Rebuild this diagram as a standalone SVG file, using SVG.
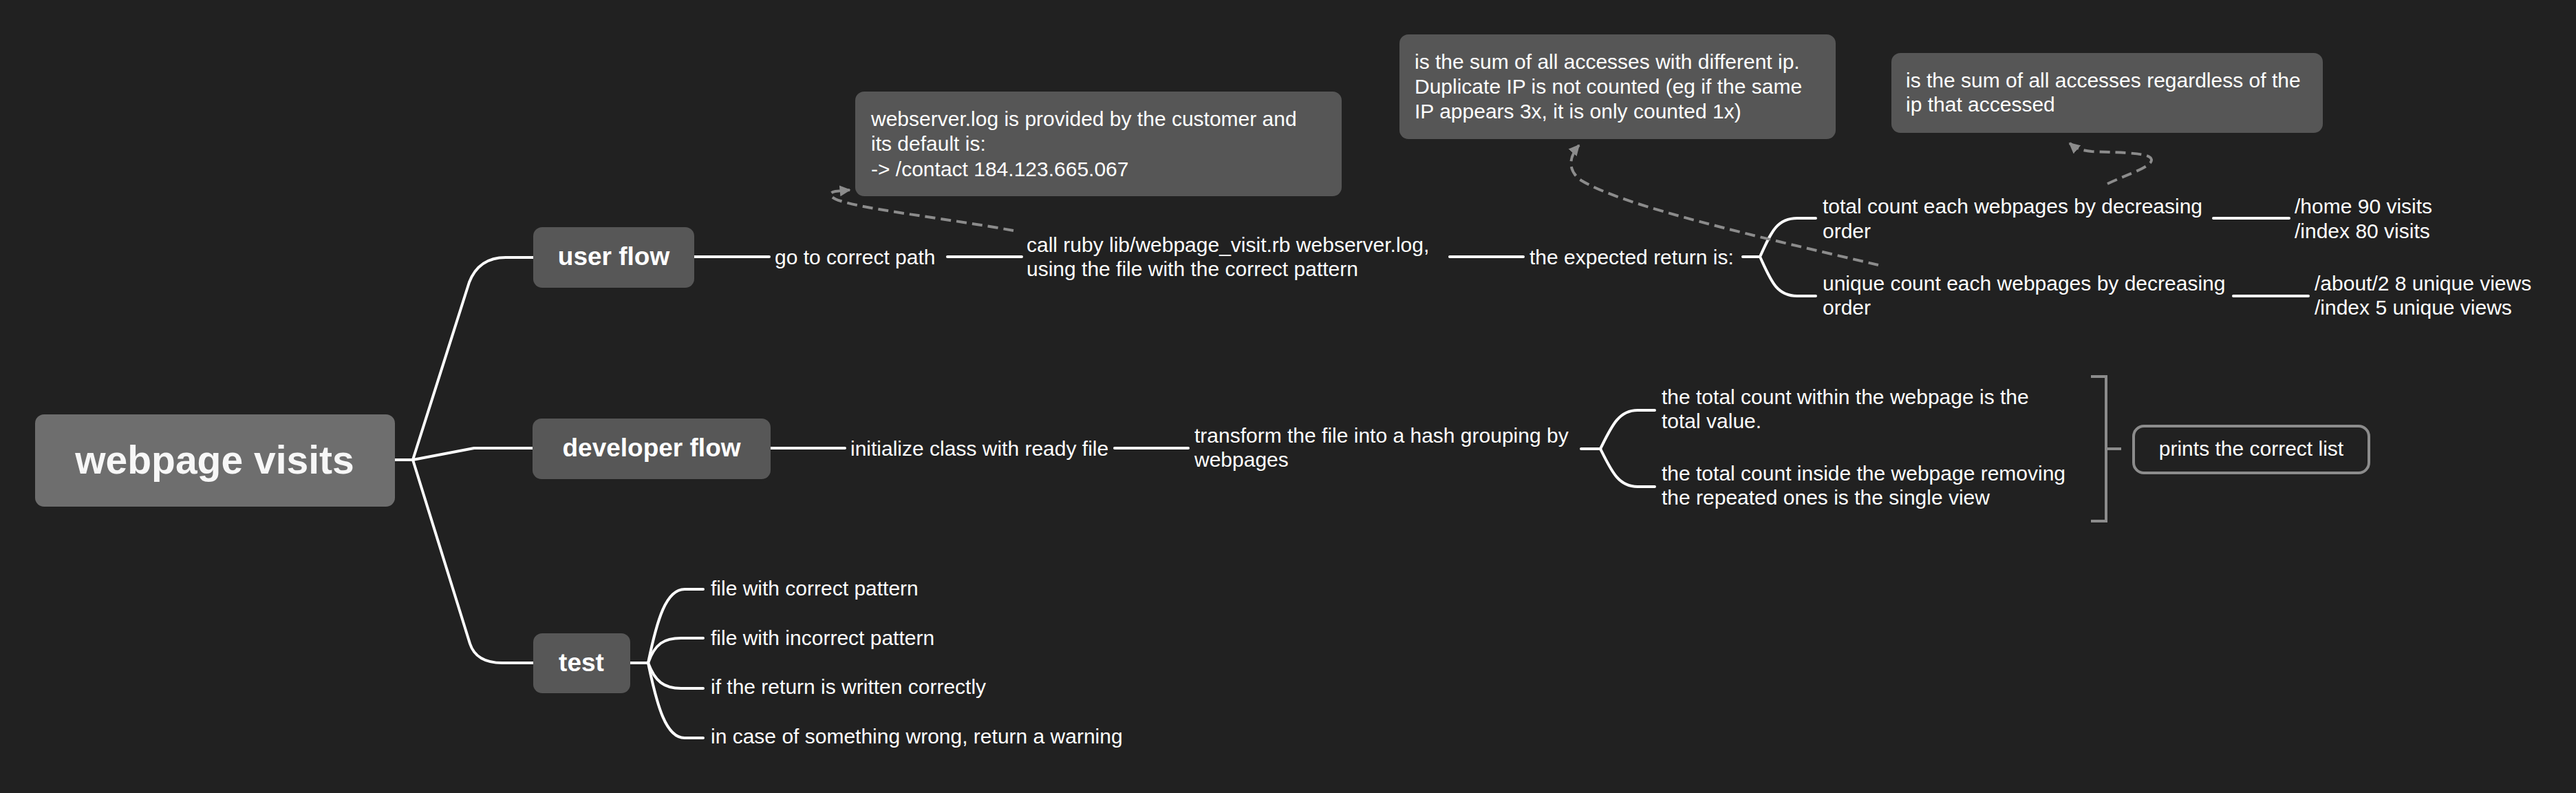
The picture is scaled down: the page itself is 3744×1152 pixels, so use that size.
<svg xmlns="http://www.w3.org/2000/svg" width="3744" height="1152" viewBox="0 0 3744 1152">
<defs>
<style>
.t{font-family:"Liberation Sans",Arial,sans-serif;font-size:30px;fill:#ffffff;}
.m{font-family:"Liberation Sans",Arial,sans-serif;font-size:37px;font-weight:bold;fill:#ffffff;text-anchor:middle;}
.r{font-family:"Liberation Sans",Arial,sans-serif;font-size:57px;font-weight:bold;fill:#f7f7f7;text-anchor:middle;}
.c{fill:none;stroke:#ffffff;stroke-width:4;stroke-linecap:round;stroke-linejoin:round;}
.d{fill:none;stroke:#8c8c8c;stroke-width:4;stroke-dasharray:15 8;}
.g{fill:none;stroke:#8c8c8c;stroke-width:4;}
.topic{fill:#575757;}
.note{fill:#565656;}
</style>
<marker id="arr" viewBox="0 0 10 10" refX="9" refY="5" markerWidth="16" markerHeight="16" markerUnits="userSpaceOnUse" orient="auto">
<path d="M0,0 L10,5 L0,10 z" fill="#8c8c8c"/>
</marker>
</defs>
<rect x="0" y="0" width="3744" height="1152" fill="#212121"/>

<g id="connectors">
<path class="c" d="M574 668 L600 668"/>
<path class="c" d="M600 668 L682 410 Q696 374 735 374 L775 374"/>
<path class="c" d="M600 668 L689 651 L775 651"/>
<path class="c" d="M600 668 L683 935 Q692 963 730 963 L775 963"/>
<path class="c" d="M1009 373 L1118 373"/>
<path class="c" d="M1377 373 L1485 373"/>
<path class="c" d="M2107 373 L2214 373"/>
<path class="c" d="M2533 373 L2558 373"/>
<path class="c" d="M2558 373 C2574 338 2582 317 2612 317 L2639 317"/>
<path class="c" d="M2558 373 C2574 408 2582 430 2612 430 L2639 430"/>
<path class="c" d="M3217 317 L3327 317"/>
<path class="c" d="M3246 430 L3355 430"/>
<path class="c" d="M1120 651 L1228 651"/>
<path class="c" d="M1620 651 L1727 651"/>
<path class="c" d="M2298 652 L2326 652"/>
<path class="c" d="M2326 652 C2342 620 2352 596 2380 596 L2405 596"/>
<path class="c" d="M2326 652 C2342 684 2352 707 2380 707 L2405 707"/>
<path class="c" d="M916 963 L942 963"/>
<path class="c" d="M942 963 C955 900 968 856 995 856 L1022 856"/>
<path class="c" d="M942 963 C952 935 965 927 990 927 L1022 927"/>
<path class="c" d="M942 963 C952 990 965 1000 990 1000 L1022 1000"/>
<path class="c" d="M942 963 C955 1026 968 1072 995 1072 L1022 1072"/>
<path class="g" d="M3039 547 L3061 547 L3061 757 L3039 757 M3061 652 L3083 652"/>
<path class="d" marker-end="url(#arr)" d="M1473 335 C1380 318 1262 305 1222 292 C1205 287 1203 280 1214 278 L1235 276"/>
<path class="d" marker-end="url(#arr)" d="M2730 385 C2560 345 2360 300 2298 262 C2278 248 2280 228 2295 211"/>
<path class="d" marker-end="url(#arr)" d="M3063 267 C3095 252 3128 242 3127 232 C3126 222 3090 222 3040 220 C3025 219 3015 214 3008 208"/>
</g>

<g id="root">
<rect x="51" y="602" width="523" height="134" rx="13" fill="#6e6e6e"/>
<text class="r" x="312" y="688">webpage visits</text>
</g>

<g id="user-flow">
<rect class="topic" x="775" y="330" width="234" height="88" rx="13"/>
<text class="m" x="892" y="385">user flow</text>
</g>
<g id="go-to-correct-path"><text class="t" x="1126" y="384">go to correct path</text></g>
<g id="call-ruby">
<text class="t" x="1492" y="366">call ruby lib/webpage_visit.rb webserver.log,</text>
<text class="t" x="1492" y="401">using the file with the correct pattern</text>
</g>
<g id="expected-return"><text class="t" x="2223" y="384">the expected return is:</text></g>
<g id="total-count">
<text class="t" x="2649" y="310">total count each webpages by decreasing</text>
<text class="t" x="2649" y="346">order</text>
</g>
<g id="total-values">
<text class="t" x="3335" y="310">/home 90 visits</text>
<text class="t" x="3335" y="346">/index 80 visits</text>
</g>
<g id="unique-count">
<text class="t" x="2649" y="422">unique count each webpages by decreasing</text>
<text class="t" x="2649" y="457">order</text>
</g>
<g id="unique-values">
<text class="t" x="3364" y="422">/about/2 8 unique views</text>
<text class="t" x="3364" y="457">/index 5 unique views</text>
</g>

<g id="note-webserver">
<rect class="note" x="1243" y="133" width="707" height="152" rx="13"/>
<text class="t" x="1266" y="183">webserver.log is provided by the customer and</text>
<text class="t" x="1266" y="219">its default is:</text>
<text class="t" x="1266" y="256">-&gt; /contact 184.123.665.067</text>
</g>
<g id="note-unique">
<rect class="note" x="2034" y="50" width="634" height="152" rx="13"/>
<text class="t" x="2056" y="100">is the sum of all accesses with different ip.</text>
<text class="t" x="2056" y="136">Duplicate IP is not counted (eg if the same</text>
<text class="t" x="2056" y="172">IP appears 3x, it is only counted 1x)</text>
</g>
<g id="note-total">
<rect class="note" x="2749" y="77" width="627" height="116" rx="13"/>
<text class="t" x="2770" y="127">is the sum of all accesses regardless of the</text>
<text class="t" x="2770" y="162">ip that accessed</text>
</g>

<g id="developer-flow">
<rect class="topic" x="774" y="608" width="346" height="88" rx="13"/>
<text class="m" x="947" y="663">developer flow</text>
</g>
<g id="initialize-class"><text class="t" x="1236" y="662">initialize class with ready file</text></g>
<g id="transform-file">
<text class="t" x="1736" y="643">transform the file into a hash grouping by</text>
<text class="t" x="1736" y="678">webpages</text>
</g>
<g id="total-within">
<text class="t" x="2415" y="587">the total count within the webpage is the</text>
<text class="t" x="2415" y="622">total value.</text>
</g>
<g id="total-inside">
<text class="t" x="2415" y="698">the total count inside the webpage removing</text>
<text class="t" x="2415" y="733">the repeated ones is the single view</text>
</g>
<g id="prints-list">
<rect x="3101" y="619" width="342" height="68" rx="15" fill="none" stroke="#8c8c8c" stroke-width="4"/>
<text class="t" x="3272" y="662" text-anchor="middle">prints the correct list</text>
</g>

<g id="test">
<rect class="topic" x="775" y="920" width="141" height="87" rx="13"/>
<text class="m" x="845" y="975">test</text>
</g>
<g id="test-1"><text class="t" x="1033" y="865">file with correct pattern</text></g>
<g id="test-2"><text class="t" x="1033" y="937">file with incorrect pattern</text></g>
<g id="test-3"><text class="t" x="1033" y="1008">if the return is written correctly</text></g>
<g id="test-4"><text class="t" x="1033" y="1080">in case of something wrong, return a warning</text></g>
</svg>
